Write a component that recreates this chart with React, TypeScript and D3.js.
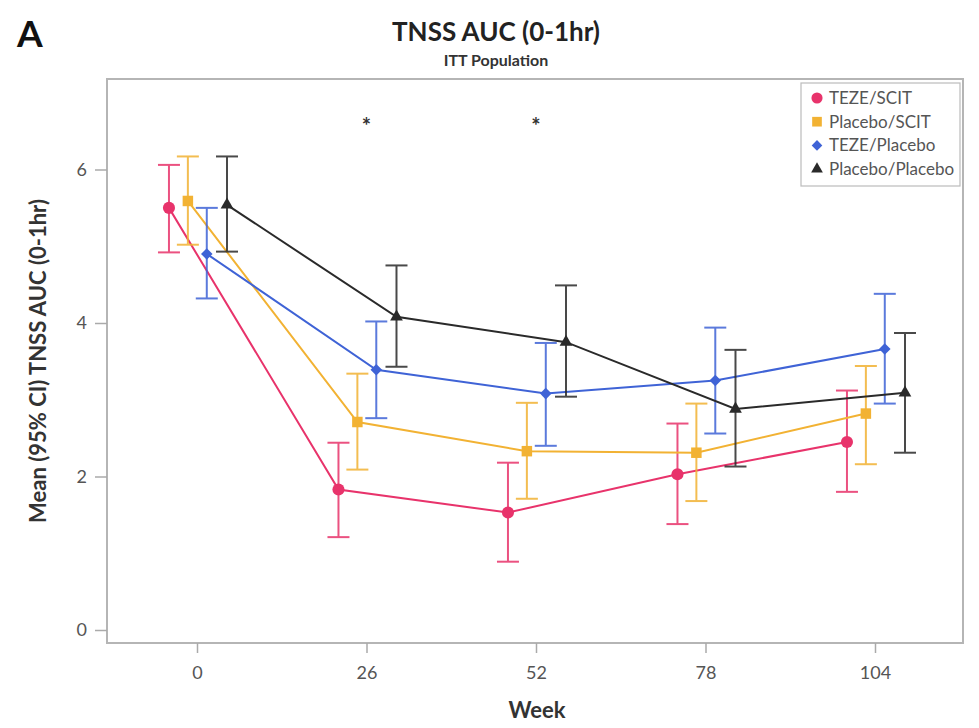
import * as d3 from "d3";
import { useEffect, useRef } from "react";

// weeks on the x axis
const weeks = [0, 26, 52, 78, 104];
const yTicks = [0, 2, 4, 6];

// series: mean, upper CI, lower CI
const tezeScitMean = [5.5, 1.83, 1.53, 2.03, 2.45];
const tezeScitHi = [6.06, 2.44, 2.18, 2.69, 3.12];
const tezeScitLo = [4.92, 1.21, 0.89, 1.38, 1.8];

const placeboScitMean = [5.59, 2.71, 2.33, 2.31, 2.82];
const placeboScitHi = [6.17, 3.34, 2.96, 2.95, 3.44];
const placeboScitLo = [5.02, 2.09, 1.71, 1.68, 2.16];

const tezePlaceboMean = [4.9, 3.39, 3.08, 3.25, 3.66];
const tezePlaceboHi = [5.5, 4.02, 3.74, 3.94, 4.38];
const tezePlaceboLo = [4.32, 2.76, 2.4, 2.56, 2.95];

const placeboPlaceboMean = [5.54, 4.08, 3.75, 2.88, 3.09];
const placeboPlaceboHi = [6.17, 4.75, 4.49, 3.65, 3.87];
const placeboPlaceboLo = [4.93, 3.43, 3.04, 2.13, 2.31];

// weeks with a significance star
const starWeeks = [26, 52];
const starValue = 6.6;

const groups = [
  { name: "TEZE/SCIT", color: "#e8336b", symbol: d3.symbolCircle, size: 115, offset: -4.3, mean: tezeScitMean, hi: tezeScitHi, lo: tezeScitLo },
  { name: "Placebo/SCIT", color: "#f2b233", symbol: d3.symbolSquare, size: 110, offset: -1.4, mean: placeboScitMean, hi: placeboScitHi, lo: placeboScitLo },
  { name: "TEZE/Placebo", color: "#3f63d6", symbol: d3.symbolDiamond2, size: 85, offset: 1.5, mean: tezePlaceboMean, hi: tezePlaceboHi, lo: tezePlaceboLo },
  { name: "Placebo/Placebo", color: "#2a2a2a", symbol: d3.symbolTriangle, size: 70, offset: 4.6, mean: placeboPlaceboMean, hi: placeboPlaceboHi, lo: placeboPlaceboLo },
];

const FONT = "Lato, 'Open Sans', Arial, sans-serif";

function Chart() {
  const ref = useRef<SVGSVGElement>(null);

  useEffect(() => {
    const svg = d3.select(ref.current);
    svg.selectAll("*").remove();

    const frame = { left: 107, right: 963, top: 79, bottom: 643 };
    const x = d3.scaleLinear().domain([0, 104]).range([197, 875]);
    const y = d3.scaleLinear().domain([0, 6]).range([630, 169.5]);

    // title block
    svg.append("text").attr("x", 17).attr("y", 47).text("A")
      .attr("font-family", FONT).attr("font-weight", "bold").attr("font-size", 37).attr("fill", "#111");
    svg.append("text").attr("x", 496).attr("y", 41).attr("text-anchor", "middle").text("TNSS AUC (0-1hr)")
      .attr("font-family", FONT).attr("font-weight", "bold").attr("font-size", 26).attr("fill", "#222");
    svg.append("text").attr("x", 496).attr("y", 66).attr("text-anchor", "middle").text("ITT Population")
      .attr("font-family", FONT).attr("font-weight", "bold").attr("font-size", 16).attr("fill", "#333");

    // plot frame
    svg.append("rect")
      .attr("x", frame.left).attr("y", frame.top)
      .attr("width", frame.right - frame.left).attr("height", frame.bottom - frame.top)
      .attr("fill", "#fff").attr("stroke", "#b5b5b5").attr("stroke-width", 2);

    // axes
    const yAxis = svg.append("g").attr("transform", `translate(${frame.left},0)`)
      .call(d3.axisLeft(y).tickValues(yTicks).tickFormat(d3.format("d")).tickSize(12).tickPadding(8));
    const xAxis = svg.append("g").attr("transform", `translate(0,${frame.bottom})`)
      .call(d3.axisBottom(x).tickValues(weeks).tickFormat(d3.format("d")).tickSize(10).tickPadding(13));
    [yAxis, xAxis].forEach((g) => {
      g.select(".domain").remove();
      g.selectAll("line").attr("stroke", "#aaa").attr("stroke-width", 1.5);
      g.selectAll("text").attr("font-family", FONT).attr("font-size", 18).attr("fill", "#555");
    });

    svg.append("text").attr("x", 537).attr("y", 718).attr("text-anchor", "middle").text("Week")
      .attr("font-family", FONT).attr("font-weight", "bold").attr("font-size", 22).attr("fill", "#333");
    svg.append("text")
      .attr("transform", `translate(46,${(frame.top + frame.bottom) / 2}) rotate(-90)`)
      .attr("text-anchor", "middle").text("Mean (95% CI) TNSS AUC (0-1hr)")
      .attr("font-family", FONT).attr("font-weight", "bold").attr("font-size", 22).attr("fill", "#333");

    // series
    groups.forEach((g) => {
      const pts = weeks.map((w, i) => ({ w: w + g.offset, m: g.mean[i], hi: g.hi[i], lo: g.lo[i] }));
      const layer = svg.append("g");

      layer.append("path")
        .datum(pts)
        .attr("fill", "none").attr("stroke", g.color).attr("stroke-width", 2)
        .attr("d", d3.line<any>().x((d) => x(d.w)).y((d) => y(d.m)));

      const bars = layer.selectAll("g.err").data(pts).enter().append("g")
        .attr("stroke", g.color).attr("stroke-width", 2).attr("opacity", 0.85);
      bars.append("line")
        .attr("x1", (d) => x(d.w)).attr("x2", (d) => x(d.w))
        .attr("y1", (d) => y(d.hi)).attr("y2", (d) => y(d.lo));
      bars.append("line")
        .attr("x1", (d) => x(d.w) - 11).attr("x2", (d) => x(d.w) + 11)
        .attr("y1", (d) => y(d.hi)).attr("y2", (d) => y(d.hi));
      bars.append("line")
        .attr("x1", (d) => x(d.w) - 11).attr("x2", (d) => x(d.w) + 11)
        .attr("y1", (d) => y(d.lo)).attr("y2", (d) => y(d.lo));

      layer.selectAll("path.pt").data(pts).enter().append("path")
        .attr("transform", (d) => `translate(${x(d.w)},${y(d.m)})`)
        .attr("d", d3.symbol().type(g.symbol).size(g.size)())
        .attr("fill", g.color);
    });

    // significance stars
    svg.selectAll("text.star").data(starWeeks).enter().append("text")
      .attr("x", (d) => x(d)).attr("y", y(starValue) + 11)
      .attr("text-anchor", "middle").text("*")
      .attr("font-family", FONT).attr("font-weight", "bold").attr("font-size", 22).attr("fill", "#333");

    // legend
    const lg = svg.append("g").attr("transform", "translate(801,83)");
    lg.append("rect").attr("width", 159).attr("height", 103)
      .attr("fill", "#fff").attr("stroke", "#bbb").attr("stroke-width", 1.2);
    groups.forEach((g, i) => {
      const row = lg.append("g").attr("transform", `translate(16,${15 + i * 23.7})`);
      row.append("path").attr("d", d3.symbol().type(g.symbol).size(g.size * 0.85)()).attr("fill", g.color);
      row.append("text").attr("x", 12).attr("y", 6).text(g.name)
        .attr("font-family", FONT).attr("font-size", 17).attr("fill", "#555");
    });
  }, []);

  return <svg ref={ref} width={979} height={728} style={{ display: "block" }} />;
}

export default function App() {
  return (
    <div style={{ margin: -8, background: "#fff" }}>
      <Chart />
    </div>
  );
}
